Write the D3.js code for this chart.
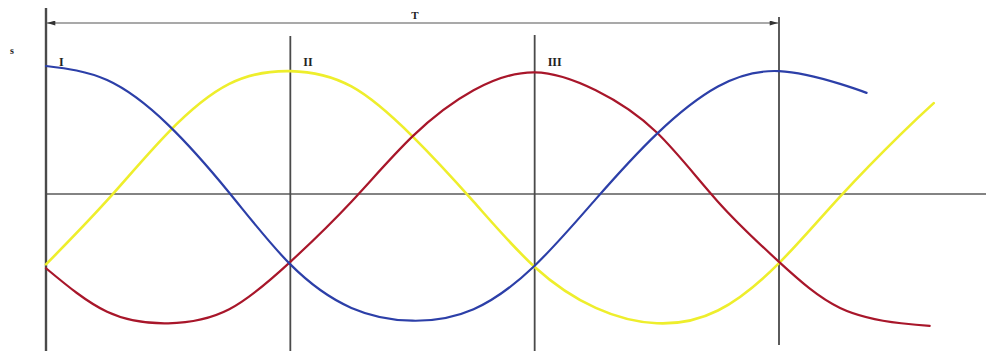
<!DOCTYPE html>
<html>
<head>
<meta charset="utf-8">
<script src="https://cdn.jsdelivr.net/npm/d3@7"></script>
<style>
  html, body { margin: 0; padding: 0; background: #fff; }
  svg { display: block; }
</style>
</head>
<body>
<svg id="chart" width="986" height="351"></svg>
<script>
// Phase angle (degrees) and displacement s for the three shifted waves
const bluePhase = [0, 30, 60, 90, 120, 150, 180, 210, 240, 270, 300, 330, 360, 390, 403];
const blueS     = [1.00, 0.89, 0.54, 0.01, -0.55, -0.89, -0.99, -0.90, -0.56, -0.04, 0.47, 0.84, 0.96, 0.86, 0.79];

const yellowPhase = [0, 30, 60, 90, 120, 150, 180, 210, 240, 270, 300, 330, 360, 390, 420, 436];
const yellowS     = [-0.55, -0.05, 0.48, 0.86, 0.96, 0.84, 0.45, -0.06, -0.57, -0.89, -1.01, -0.91, -0.54, -0.02, 0.47, 0.71];

const redPhase = [0, 30, 60, 90, 120, 150, 180, 210, 240, 270, 300, 330, 360, 390, 420, 434];
const redS     = [-0.58, -0.92, -1.01, -0.90, -0.53, -0.06, 0.45, 0.81, 0.95, 0.81, 0.48, -0.06, -0.53, -0.89, -1.01, -1.03];

// Marker positions (phase) and their labels
const markerPhase = [0, 120, 240, 360];
const markerLabels = ["I", "II", "III"];
const periodLabel = "T";
const axisLabel = "s";

const svg = d3.select("#chart");
const x = d3.scaleLinear().domain([0, 360]).range([46, 779]);
const y = d3.scaleLinear().domain([-1, 1]).range([322, 66]);
const xEnd = x.invert(986);

const ink = "#4a4a4a";

// Horizontal zero axis
svg.append("line")
  .attr("x1", x(0)).attr("x2", x(xEnd))
  .attr("y1", y(0)).attr("y2", y(0))
  .attr("stroke", "#5a5a5a").attr("stroke-width", 1.6);

// Vertical marker lines
const lineTops = [8, 36, 35, 17];
const lineBottoms = [351, 351, 351, 345];
svg.selectAll("line.marker")
  .data(markerPhase)
  .join("line")
  .attr("class", "marker")
  .attr("x1", d => x(d)).attr("x2", d => x(d))
  .attr("y1", (d, i) => lineTops[i])
  .attr("y2", (d, i) => lineBottoms[i])
  .attr("stroke", ink)
  .attr("stroke-width", (d, i) => i === 0 ? 2.4 : 1.8);

// Period arrow
const defs = svg.append("defs");
defs.append("marker")
  .attr("id", "head")
  .attr("viewBox", "0 0 10 6")
  .attr("refX", 10).attr("refY", 3)
  .attr("markerWidth", 16).attr("markerHeight", 5)
  .attr("markerUnits", "userSpaceOnUse")
  .attr("orient", "auto-start-reverse")
  .append("path")
  .attr("d", "M0,0 L10,3 L0,6 Z")
  .attr("fill", "#333");

svg.append("line")
  .attr("x1", x(0) + 1).attr("x2", x(360) - 1)
  .attr("y1", 23).attr("y2", 23)
  .attr("stroke", "#555").attr("stroke-width", 1.2)
  .attr("marker-start", "url(#head)")
  .attr("marker-end", "url(#head)");

svg.append("text")
  .attr("x", 415).attr("y", 19)
  .attr("text-anchor", "middle")
  .attr("font-family", "Liberation Serif, DejaVu Serif, serif")
  .attr("font-weight", "bold")
  .attr("font-size", 11)
  .attr("fill", "#222")
  .text(periodLabel);

svg.append("text")
  .attr("x", 12).attr("y", 54)
  .attr("text-anchor", "middle")
  .attr("font-family", "Liberation Serif, DejaVu Serif, serif")
  .attr("font-weight", "bold")
  .attr("font-size", 10)
  .attr("fill", "#222")
  .text(axisLabel);

svg.selectAll("text.mlabel")
  .data(markerLabels)
  .join("text")
  .attr("class", "mlabel")
  .attr("x", (d, i) => x(markerPhase[i]) + 13)
  .attr("y", 66)
  .attr("font-family", "Liberation Serif, DejaVu Serif, serif")
  .attr("font-weight", "bold")
  .attr("font-size", 12)
  .attr("fill", "#222")
  .text(d => d);

// Waves
const line = d3.line()
  .x(d => x(d[0]))
  .y(d => y(d[1]))
  .curve(d3.curveNatural);

const series = [
  { phase: yellowPhase, s: yellowS, color: "#eeee2c", width: 2.6 },
  { phase: redPhase,    s: redS,    color: "#a8162a", width: 2.2 },
  { phase: bluePhase,   s: blueS,   color: "#2c3fa8", width: 2.2 }
];

svg.selectAll("path.wave")
  .data(series)
  .join("path")
  .attr("class", "wave")
  .attr("d", d => line(d.phase.map((p, i) => [p, d.s[i]])))
  .attr("fill", "none")
  .attr("stroke", d => d.color)
  .attr("stroke-width", d => d.width)
  .attr("stroke-linecap", "round");
</script>
</body>
</html>
